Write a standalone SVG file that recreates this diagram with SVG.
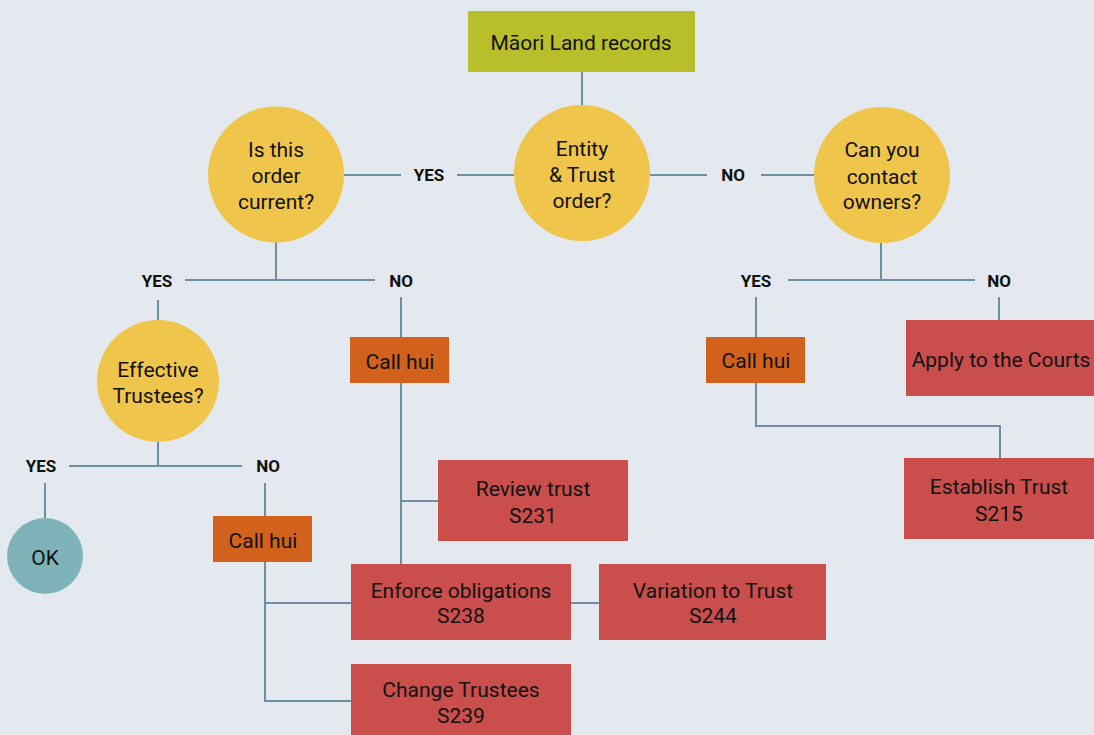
<svg xmlns="http://www.w3.org/2000/svg" width="1094" height="735" viewBox="0 0 1094 735">
<style>
.t{font-family:Roboto,"Liberation Sans",sans-serif;font-size:21px;fill:#111;text-anchor:middle}
.l{font-family:Roboto,"Liberation Sans",sans-serif;font-size:17px;font-weight:bold;fill:#111;text-anchor:middle}
.q{fill:#f0c54c}
.h{fill:#d2611c}
.r{fill:#c94e4c}
.c{fill:none;stroke:#6c8fa3;stroke-width:2}
</style>
<rect width="1094" height="735" fill="#e3e9ee"/>
<g id="connectors" class="c">
<line x1="582" y1="72" x2="582" y2="106"/>
<line x1="344" y1="175" x2="401" y2="175"/>
<line x1="457" y1="175" x2="514" y2="175"/>
<line x1="650" y1="175" x2="707" y2="175"/>
<line x1="761" y1="175" x2="814" y2="175"/>
<line x1="276" y1="242" x2="276" y2="280"/>
<line x1="185" y1="280" x2="375" y2="280"/>
<line x1="158" y1="300" x2="158" y2="320"/>
<line x1="401" y1="297" x2="401" y2="337"/>
<line x1="401" y1="383" x2="401" y2="564"/>
<line x1="401" y1="501" x2="438" y2="501"/>
<line x1="158" y1="442" x2="158" y2="466"/>
<line x1="69" y1="466" x2="242" y2="466"/>
<line x1="45" y1="483" x2="45" y2="519"/>
<line x1="265" y1="483" x2="265" y2="516"/>
<polyline points="265,562 265,701 351,701"/>
<line x1="265" y1="603" x2="351" y2="603"/>
<line x1="571" y1="603" x2="599" y2="603"/>
<line x1="881" y1="243" x2="881" y2="280"/>
<line x1="788" y1="280" x2="975" y2="280"/>
<line x1="756" y1="297" x2="756" y2="337"/>
<line x1="999" y1="297" x2="999" y2="320"/>
<polyline points="756,383 756,426 1000,426 1000,458"/>
</g>
<g id="labels">
<text class="l" x="429" y="181">YES</text>
<text class="l" x="733" y="181">NO</text>
<text class="l" x="157" y="287">YES</text>
<text class="l" x="401" y="287">NO</text>
<text class="l" x="756" y="287">YES</text>
<text class="l" x="999" y="287">NO</text>
<text class="l" x="41" y="472">YES</text>
<text class="l" x="268" y="472">NO</text>
</g>
<g id="maori-land-records">
<rect x="468" y="11" width="227" height="61" fill="#b8bf2a"/>
<text class="t" x="581" y="50">Māori Land records</text>
</g>
<g id="entity-trust-order">
<circle class="q" cx="582" cy="173" r="68"/>
<text class="t" x="582" y="156">Entity</text>
<text class="t" x="582" y="182">&amp; Trust</text>
<text class="t" x="582" y="208">order?</text>
</g>
<g id="is-this-order-current">
<circle class="q" cx="276" cy="174.5" r="68"/>
<text class="t" x="276" y="157">Is this</text>
<text class="t" x="276" y="183">order</text>
<text class="t" x="276" y="209">current?</text>
</g>
<g id="can-you-contact-owners">
<circle class="q" cx="882" cy="175" r="68"/>
<text class="t" x="882" y="157">Can you</text>
<text class="t" x="882" y="184">contact</text>
<text class="t" x="882" y="209">owners?</text>
</g>
<g id="effective-trustees">
<circle class="q" cx="158" cy="381" r="61"/>
<text class="t" x="158" y="377">Effective</text>
<text class="t" x="158" y="403">Trustees?</text>
</g>
<g id="ok">
<circle cx="45" cy="556" r="38" fill="#7fb3ba"/>
<text class="t" x="45" y="565">OK</text>
</g>
<g id="call-hui-middle">
<rect class="h" x="350" y="337" width="99" height="46"/>
<text class="t" x="400" y="369">Call hui</text>
</g>
<g id="call-hui-left">
<rect class="h" x="213" y="516" width="99" height="46"/>
<text class="t" x="263" y="548">Call hui</text>
</g>
<g id="call-hui-right">
<rect class="h" x="706" y="337" width="99" height="46"/>
<text class="t" x="756" y="368">Call hui</text>
</g>
<g id="apply-to-the-courts">
<rect class="r" x="906" y="320" width="188" height="76"/>
<text class="t" x="1001" y="367">Apply to the Courts</text>
</g>
<g id="establish-trust">
<rect class="r" x="904" y="458" width="190" height="81"/>
<text class="t" x="999" y="494">Establish Trust</text>
<text class="t" x="999" y="521">S215</text>
</g>
<g id="review-trust">
<rect class="r" x="438" y="460" width="190" height="81"/>
<text class="t" x="533" y="496">Review trust</text>
<text class="t" x="533" y="523">S231</text>
</g>
<g id="enforce-obligations">
<rect class="r" x="351" y="564" width="220" height="76"/>
<text class="t" x="461" y="598">Enforce obligations</text>
<text class="t" x="461" y="623">S238</text>
</g>
<g id="variation-to-trust">
<rect class="r" x="599" y="564" width="227" height="76"/>
<text class="t" x="713" y="598">Variation to Trust</text>
<text class="t" x="713" y="623">S244</text>
</g>
<g id="change-trustees">
<rect class="r" x="351" y="664" width="220" height="71"/>
<text class="t" x="461" y="697">Change Trustees</text>
<text class="t" x="461" y="723">S239</text>
</g>
</svg>
